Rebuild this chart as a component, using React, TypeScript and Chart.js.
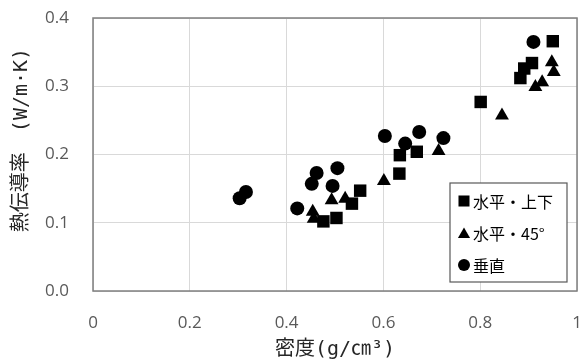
import React, { useEffect, useRef } from 'react';
import { Chart, registerables } from 'chart.js';

Chart.register(...registerables);

const seriesNames = ['水平・上下', '水平・45°', '垂直'];

// 水平・上下 (squares)
const sqX = [0.476, 0.503, 0.535, 0.552, 0.633, 0.634, 0.669, 0.801, 0.883, 0.891, 0.907, 0.950];
const sqY = [0.102, 0.107, 0.128, 0.147, 0.172, 0.199, 0.204, 0.277, 0.312, 0.326, 0.334, 0.366];

// 水平・45° (triangles)
const trX = [0.454, 0.456, 0.493, 0.521, 0.601, 0.714, 0.845, 0.914, 0.928, 0.948, 0.952];
const trY = [0.116, 0.106, 0.133, 0.135, 0.161, 0.205, 0.257, 0.299, 0.306, 0.335, 0.321];

// 垂直 (circles)
const ciX = [0.303, 0.316, 0.422, 0.452, 0.462, 0.495, 0.505, 0.603, 0.645, 0.674, 0.724, 0.910];
const ciY = [0.136, 0.145, 0.121, 0.157, 0.173, 0.154, 0.180, 0.227, 0.216, 0.233, 0.224, 0.365];

const xTitle = '密度(g/㎝³)';
const yTitle = '熱伝導率　(W/m·K)';

const toPts = (xs: number[], ys: number[]) => xs.map((x, i) => ({ x, y: ys[i] }));

const tickFmt = (v: any) => String(Number(Number(v).toFixed(1)));
const yTickFmt = (v: any) => Number(v).toFixed(1);

const TITLE_FONT = '"DejaVu Sans Mono", "Noto Sans CJK JP"';

const drawMarker = (ctx: CanvasRenderingContext2D, style: string, x: number, y: number, r: number) => {
  ctx.beginPath();
  if (style === 'rect') {
    const s = Math.SQRT1_2 * r;
    ctx.rect(x - s, y - s, 2 * s, 2 * s);
  } else if (style === 'triangle') {
    for (let k = 0; k < 3; k++) {
      const a = (k * 120 * Math.PI) / 180;
      const px = x + Math.sin(a) * r;
      const py = y - Math.cos(a) * r;
      if (k === 0) ctx.moveTo(px, py);
      else ctx.lineTo(px, py);
    }
    ctx.closePath();
  } else {
    ctx.arc(x, y, r, 0, Math.PI * 2);
  }
  ctx.fill();
};

const framePlugin = {
  id: 'frameLegend',
  afterDraw(chart: any) {
    const { ctx, chartArea } = chart;
    ctx.save();
    ctx.strokeStyle = '#7f7f7f';
    ctx.lineWidth = 1.5;
    ctx.strokeRect(chartArea.left, chartArea.top, chartArea.right - chartArea.left, chartArea.bottom - chartArea.top);

    // y axis title (drawn slightly above centre, as in the reference)
    ctx.save();
    ctx.translate(22, 140);
    ctx.rotate(-Math.PI / 2);
    ctx.font = `20px ${TITLE_FONT}`;
    ctx.fillStyle = '#262626';
    ctx.textAlign = 'center';
    ctx.textBaseline = 'middle';
    ctx.fillText(yTitle, 0, 0);
    ctx.restore();

    // legend box
    const bx = 450, by = 183, bw = 117, bh = 99;
    ctx.fillStyle = '#ffffff';
    ctx.fillRect(bx, by, bw, bh);
    ctx.strokeStyle = '#595959';
    ctx.lineWidth = 1.2;
    ctx.strokeRect(bx, by, bw, bh);
    const styles = ['rect', 'triangle', 'circle'];
    const radii = [7.8, 7, 6];
    const rowsY = [201, 233, 265];
    ctx.font = '16px "Noto Sans CJK JP"';
    ctx.textBaseline = 'middle';
    ctx.textAlign = 'left';
    chart.data.datasets.forEach((ds: any, i: number) => {
      ctx.fillStyle = '#000000';
      const my = styles[i] === 'triangle' ? rowsY[i] + 1.5 : rowsY[i];
      drawMarker(ctx, styles[i], 464, my, radii[i]);
      ctx.fillStyle = '#000000';
      ctx.fillText(ds.label, 473, rowsY[i] + 1);
    });
    ctx.restore();
  },
};

export default function App() {
  const ref = useRef<HTMLCanvasElement>(null);
  useEffect(() => {
    if (!ref.current) return;
    const chart = new Chart(ref.current, {
      type: 'scatter',
      data: {
        datasets: [
          {
            label: seriesNames[0],
            data: toPts(sqX, sqY),
            pointStyle: 'rect',
            pointRadius: 8.8,
            backgroundColor: '#000000',
            borderColor: '#000000',
            borderWidth: 0,
          },
          {
            label: seriesNames[1],
            data: toPts(trX, trY),
            pointStyle: 'triangle',
            pointRadius: 8,
            backgroundColor: '#000000',
            borderColor: '#000000',
            borderWidth: 0,
          },
          {
            label: seriesNames[2],
            data: toPts(ciX, ciY),
            pointStyle: 'circle',
            pointRadius: 7,
            backgroundColor: '#000000',
            borderColor: '#000000',
            borderWidth: 0,
          },
        ],
      },
      options: {
        responsive: false,
        animation: false,
        events: [],
        layout: { padding: { left: 0, top: 18, right: 9, bottom: 0 } },
        plugins: {
          legend: { display: false },
          tooltip: { enabled: false },
        },
        scales: {
          x: {
            type: 'linear',
            min: 0,
            max: 1,
            afterFit: (s: any) => { s.height = 73; },
            ticks: {
              stepSize: 0.2,
              padding: 0,
              color: '#595959',
              font: { family: '"Open Sans"', size: 17 },
              callback: tickFmt,
            },
            grid: { color: '#d9d9d9', lineWidth: 1, drawTicks: true, tickLength: 22, tickColor: 'rgba(0,0,0,0)' },
            border: { display: false },
            title: {
              display: true,
              text: xTitle,
              color: '#262626',
              font: { family: TITLE_FONT, size: 20 },
              padding: { top: 0, bottom: 2 },
            },
          },
          y: {
            type: 'linear',
            min: 0,
            max: 0.4,
            afterFit: (s: any) => { s.width = 93; },
            ticks: {
              stepSize: 0.1,
              padding: 0,
              color: '#595959',
              font: { family: '"Open Sans"', size: 17 },
              callback: yTickFmt,
            },
            grid: { color: '#d9d9d9', lineWidth: 1, drawTicks: true, tickLength: 24, tickColor: 'rgba(0,0,0,0)' },
            border: { display: false },
            title: { display: false, text: yTitle },
          },
        },
      },
      plugins: [framePlugin],
    });
    return () => chart.destroy();
  }, []);
  return (
    <div style={{ position: 'absolute', left: 0, top: 0, width: 586, height: 364, background: '#ffffff' }}>
      <canvas ref={ref} width={586} height={364} style={{ display: 'block' }} />
    </div>
  );
}
